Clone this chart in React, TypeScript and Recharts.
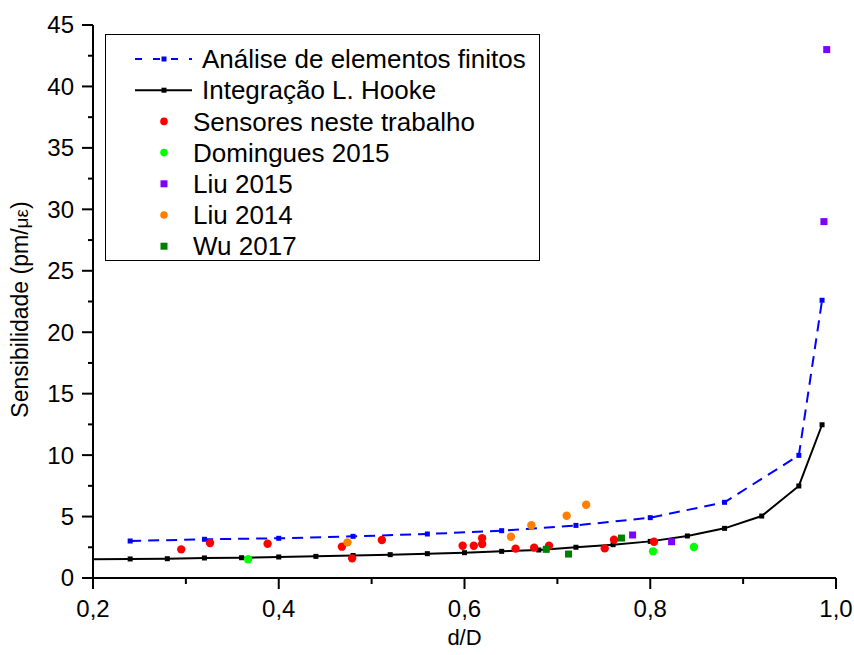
import { ComposedChart, Scatter, XAxis, YAxis } from 'recharts'

// Finite element model (blue dashed) and Hooke's law integration (black)
const FEA_X = [0.24, 0.32, 0.4, 0.48, 0.56, 0.64, 0.72, 0.8, 0.88, 0.96, 0.985]
const FEA_Y = [3.01, 3.15, 3.23, 3.39, 3.58, 3.85, 4.28, 4.91, 6.16, 9.98, 22.6]

const HOOKE_X = [0.2, 0.24, 0.28, 0.32, 0.36, 0.4, 0.44, 0.48, 0.52, 0.56, 0.6, 0.64, 0.68, 0.72, 0.76, 0.8, 0.84, 0.88, 0.92, 0.96, 0.985]
const HOOKE_Y = [1.53, 1.55, 1.57, 1.63, 1.65, 1.71, 1.76, 1.83, 1.9, 1.98, 2.06, 2.17, 2.28, 2.5, 2.71, 2.98, 3.42, 4.04, 5.04, 7.49, 12.47]

// Measured sensitivities
const SENSOR_X = [0.295, 0.326, 0.388, 0.468, 0.479, 0.511, 0.598, 0.61, 0.619, 0.619, 0.655, 0.675, 0.691, 0.751, 0.761, 0.804]
const SENSOR_Y = [2.33, 2.85, 2.79, 2.55, 1.6, 3.09, 2.63, 2.63, 2.77, 3.23, 2.39, 2.47, 2.63, 2.41, 3.12, 2.95]

const DOMINGUES_X = [0.367, 0.803, 0.847]
const DOMINGUES_Y = [1.52, 2.17, 2.52]

const LIU15_X = [0.781, 0.823, 0.987, 0.99]
const LIU15_Y = [3.5, 2.95, 29.0, 43.0]

const LIU14_X = [0.474, 0.65, 0.672, 0.71, 0.731]
const LIU14_Y = [2.9, 3.36, 4.29, 5.07, 5.96]

const WU_X = [0.688, 0.712, 0.769]
const WU_Y = [2.33, 1.95, 3.25]

const X_TICKS = [0.2, 0.3, 0.4, 0.5, 0.6, 0.7, 0.8, 0.9, 1.0]
const Y_TICKS = [0, 2.5, 5, 7.5, 10, 12.5, 15, 17.5, 20, 22.5, 25, 27.5, 30, 32.5, 35, 37.5, 40, 42.5, 45]

const FONT = '"Liberation Sans", Arial, sans-serif'

const pairs = (xs: number[], ys: number[]) => xs.map((x, i) => ({ x, y: ys[i] }))

type Kind = 'dash' | 'line' | 'circle' | 'square'

const SERIES: { name: string; color: string; kind: Kind }[] = [
  { name: 'Análise de elementos finitos', color: '#0000ff', kind: 'dash' },
  { name: 'Integração L. Hooke', color: '#000000', kind: 'line' },
  { name: 'Sensores neste trabalho', color: '#ff0000', kind: 'circle' },
  { name: 'Domingues 2015', color: '#00ff00', kind: 'circle' },
  { name: 'Liu 2015', color: '#8000ff', kind: 'square' },
  { name: 'Liu 2014', color: '#ff8000', kind: 'circle' },
  { name: 'Wu 2017', color: '#008000', kind: 'square' },
]

const dot = (color: string) => (p: any) => <circle cx={p.cx} cy={p.cy} r={4.2} fill={color} />
const box = (color: string, s: number) => (p: any) => (
  <rect x={p.cx - s / 2} y={p.cy - s / 2} width={s} height={s} fill={color} />
)
// line markers; the Hooke curve starts at the axis without a marker
const lineMarker = (color: string) => (p: any) =>
  p.payload?.x < 0.22 ? <g /> : <rect x={p.cx - 2.5} y={p.cy - 2.5} width={5} height={5} fill={color} />

const XTick = ({ x, y, payload }: any) => {
  const v = payload.value
  const major = Math.abs(v * 5 - Math.round(v * 5)) < 1e-6
  return (
    <g>
      <line x1={x} x2={x} y1={y} y2={y + (major ? 11 : 6)} stroke="#000" strokeWidth={2} />
      {major && (
        <text x={x} y={y + 39} textAnchor="middle" fontSize={24} fontFamily={FONT} fill="#000">
          {v.toFixed(1).replace('.', ',')}
        </text>
      )}
    </g>
  )
}

const YTick = ({ x, y, payload }: any) => {
  const v = payload.value
  const major = v % 5 === 0
  return (
    <g>
      <line x1={x - (major ? 11 : 5)} x2={x} y1={y} y2={y} stroke="#000" strokeWidth={2} />
      {major && (
        <text x={x - 19} y={y} dy="0.35em" textAnchor="end" fontSize={24} fontFamily={FONT} fill="#000">
          {v}
        </text>
      )}
    </g>
  )
}

const XTitle = ({ viewBox }: any) => (
  <text x={viewBox.x + viewBox.width / 2} y={viewBox.y + 67} textAnchor="middle" fontSize={22} fontFamily={FONT} fill="#000">
    d/D
  </text>
)

const YTitle = ({ viewBox }: any) => {
  const cx = 28
  const cy = viewBox.y + viewBox.height / 2 + 8
  return (
    <text x={cx} y={cy} transform={`rotate(-90 ${cx} ${cy})`} textAnchor="middle" fontSize={23} fontFamily={FONT} fill="#000">
      Sensibilidade (pm/<tspan fontSize={19}>με</tspan>)
    </text>
  )
}

function LegendBox() {
  return (
    <svg width={436} height={240} style={{ position: 'absolute', left: 105, top: 34, overflow: 'visible' }}>
      <rect x={0.5} y={0.5} width={434} height={226} fill="#fff" stroke="#000" strokeWidth={1} />
      {SERIES.map((s, i) => {
        const cy = 25 + i * 31.2
        const isLine = s.kind === 'dash' || s.kind === 'line'
        return (
          <g key={s.name}>
            {isLine && (
              <line x1={30} x2={87} y1={cy} y2={cy} stroke={s.color} strokeWidth={2} strokeDasharray={s.kind === 'dash' ? '7 11' : undefined} />
            )}
            {isLine && <rect x={56.5} y={cy - 2.5} width={5} height={5} fill={s.color} />}
            {s.kind === 'circle' && <circle cx={59} cy={cy} r={3.8} fill={s.color} />}
            {s.kind === 'square' && <rect x={55.5} y={cy - 3.5} width={7} height={7} fill={s.color} />}
            <text x={isLine ? 97 : 88} y={cy} dy="0.35em" fontSize={26} fontFamily={FONT} fill="#000">
              {s.name}
            </text>
          </g>
        )
      })}
    </svg>
  )
}

export default function App() {
  return (
    <div style={{ position: 'absolute', left: 0, top: 0, width: 854, height: 655, background: '#fff' }}>
      <ComposedChart width={854} height={655} margin={{ top: 25, right: 18, bottom: 0, left: 0 }}>
        <XAxis
          dataKey="x"
          type="number"
          domain={[0.2, 1.0]}
          ticks={X_TICKS}
          interval={0}
          allowDataOverflow
          height={77}
          tickSize={0}
          tickMargin={0}
          tickLine={false}
          tick={<XTick />}
          axisLine={{ stroke: '#000', strokeWidth: 2 }}
          label={<XTitle />}
        />
        <YAxis
          dataKey="y"
          type="number"
          domain={[0, 45]}
          ticks={Y_TICKS}
          interval={0}
          allowDataOverflow
          width={93}
          tickSize={0}
          tickMargin={0}
          tickLine={false}
          tick={<YTick />}
          axisLine={{ stroke: '#000', strokeWidth: 2 }}
          label={<YTitle />}
        />
        <XAxis xAxisId="top" orientation="top" type="number" domain={[0.2, 1.0]} height={0} tick={false} tickLine={false} axisLine={{ stroke: '#000', strokeWidth: 2 }} />
        <YAxis yAxisId="right" orientation="right" type="number" domain={[0, 45]} width={0} tick={false} tickLine={false} axisLine={{ stroke: '#000', strokeWidth: 2 }} />

        <Scatter
          name="Análise de elementos finitos"
          data={pairs(FEA_X, FEA_Y)}
          line={{ stroke: '#0000ff', strokeWidth: 2, strokeDasharray: '11 7' }}
          lineType="joint"
          shape={lineMarker('#0000ff')}
          isAnimationActive={false}
        />
        <Scatter
          name="Integração L. Hooke"
          data={pairs(HOOKE_X, HOOKE_Y)}
          line={{ stroke: '#000', strokeWidth: 2 }}
          lineType="joint"
          shape={lineMarker('#000')}
          isAnimationActive={false}
        />
        <Scatter name="Sensores neste trabalho" data={pairs(SENSOR_X, SENSOR_Y)} shape={dot('#ff0000')} isAnimationActive={false} />
        <Scatter name="Domingues 2015" data={pairs(DOMINGUES_X, DOMINGUES_Y)} shape={dot('#00ff00')} isAnimationActive={false} />
        <Scatter name="Liu 2015" data={pairs(LIU15_X, LIU15_Y)} shape={box('#8000ff', 7)} isAnimationActive={false} />
        <Scatter name="Liu 2014" data={pairs(LIU14_X, LIU14_Y)} shape={dot('#ff8000')} isAnimationActive={false} />
        <Scatter name="Wu 2017" data={pairs(WU_X, WU_Y)} shape={box('#008000', 7)} isAnimationActive={false} />
      </ComposedChart>
      <LegendBox />
    </div>
  )
}
